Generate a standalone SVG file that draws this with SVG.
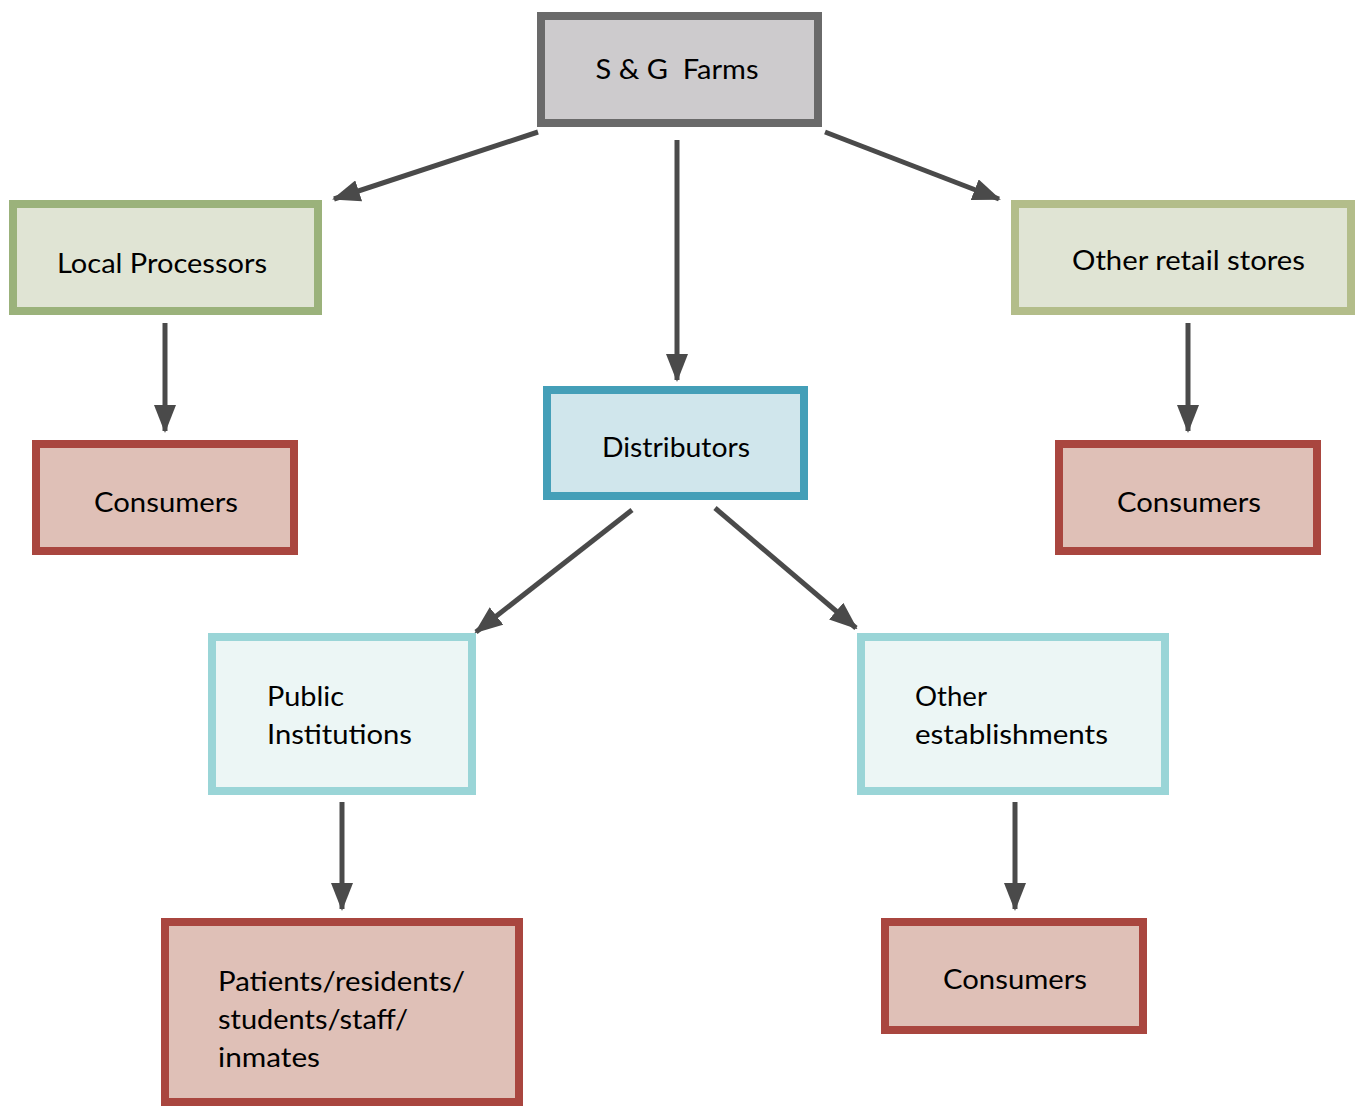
<svg xmlns="http://www.w3.org/2000/svg" width="1357" height="1106" viewBox="0 0 1357 1106">
  <style>
    .box { stroke-width: 8; }
    .farm { fill: #cdcbcd; stroke: #6a6a6a; }
    .proc { fill: #e0e4d4; stroke: #9bb27b; }
    .retail { fill: #e0e4d4; stroke: #b3bd8a; }
    .dist { fill: #d0e6ec; stroke: #449fb8; }
    .inst { fill: #ecf6f5; stroke: #9ad5d7; }
    .cons { fill: #dfc0b7; stroke: #a9463f; }
    .label { font-family: "Lato", "Open Sans", "Liberation Sans", sans-serif; font-size: 27px; fill: #000; }
    .mid { text-anchor: middle; }
    .conn line { stroke: #4a4a4a; stroke-width: 5; fill: none; marker-end: url(#head); }
  </style>
  <defs>
    <marker id="head" markerUnits="userSpaceOnUse" markerWidth="28" markerHeight="22" refX="26" refY="11" orient="auto">
      <path d="M0,0 L28,11 L0,22 Z" fill="#4a4a4a"/>
    </marker>
  </defs>
  <rect width="1357" height="1106" fill="#ffffff"/>

  <!-- connectors -->
  <g id="connectors" class="conn">
    <line x1="538" y1="132" x2="334" y2="199"/>
    <line x1="677" y1="140" x2="677" y2="380"/>
    <line x1="825" y1="132" x2="999" y2="199"/>
    <line x1="165" y1="323" x2="165" y2="431"/>
    <line x1="1188" y1="323" x2="1188" y2="431"/>
    <line x1="632" y1="510" x2="476" y2="632"/>
    <line x1="715" y1="508" x2="856" y2="628"/>
    <line x1="342" y1="802" x2="342" y2="909"/>
    <line x1="1015" y1="802" x2="1015" y2="909"/>
  </g>

  <!-- nodes -->
  <g id="farms">
    <rect class="box farm" x="541" y="16" width="277" height="107"/>
    <text class="label mid" x="677" y="79" xml:space="preserve" textLength="163" lengthAdjust="spacingAndGlyphs">S &amp; G  Farms</text>
  </g>
  <g id="local-processors">
    <rect class="box proc" x="13" y="204" width="305" height="107"/>
    <text class="label" x="57" y="273" textLength="210" lengthAdjust="spacingAndGlyphs">Local Processors</text>
  </g>
  <g id="other-retail">
    <rect class="box retail" x="1015" y="204" width="336" height="107"/>
    <text class="label" x="1072" y="270" textLength="233" lengthAdjust="spacingAndGlyphs">Other retail stores</text>
  </g>
  <g id="distributors">
    <rect class="box dist" x="547" y="390" width="257" height="106"/>
    <text class="label" x="602" y="457" textLength="148" lengthAdjust="spacingAndGlyphs">Distributors</text>
  </g>
  <g id="consumers-local">
    <rect class="box cons" x="36" y="444" width="258" height="107"/>
    <text class="label" x="94" y="512" textLength="144" lengthAdjust="spacingAndGlyphs">Consumers</text>
  </g>
  <g id="consumers-retail">
    <rect class="box cons" x="1059" y="444" width="258" height="107"/>
    <text class="label" x="1117" y="512" textLength="144" lengthAdjust="spacingAndGlyphs">Consumers</text>
  </g>
  <g id="public-institutions">
    <rect class="box inst" x="212" y="637" width="260" height="154"/>
    <text class="label" x="267" y="706" textLength="77" lengthAdjust="spacingAndGlyphs">Public</text>
    <text class="label" x="267" y="744" textLength="145" lengthAdjust="spacingAndGlyphs">Institutions</text>
  </g>
  <g id="other-establishments">
    <rect class="box inst" x="861" y="637" width="304" height="154"/>
    <text class="label" x="915" y="706" textLength="72" lengthAdjust="spacingAndGlyphs">Other</text>
    <text class="label" x="915" y="744" textLength="193" lengthAdjust="spacingAndGlyphs">establishments</text>
  </g>
  <g id="institution-users">
    <rect class="box cons" x="165" y="922" width="354" height="180"/>
    <text class="label" x="218" y="991" textLength="247" lengthAdjust="spacingAndGlyphs">Patients/residents/</text>
    <text class="label" x="218" y="1029" textLength="190" lengthAdjust="spacingAndGlyphs">students/staff/</text>
    <text class="label" x="218" y="1067" textLength="102" lengthAdjust="spacingAndGlyphs">inmates</text>
  </g>
  <g id="consumers-establishments">
    <rect class="box cons" x="885" y="922" width="258" height="108"/>
    <text class="label" x="943" y="989" textLength="144" lengthAdjust="spacingAndGlyphs">Consumers</text>
  </g>
</svg>
